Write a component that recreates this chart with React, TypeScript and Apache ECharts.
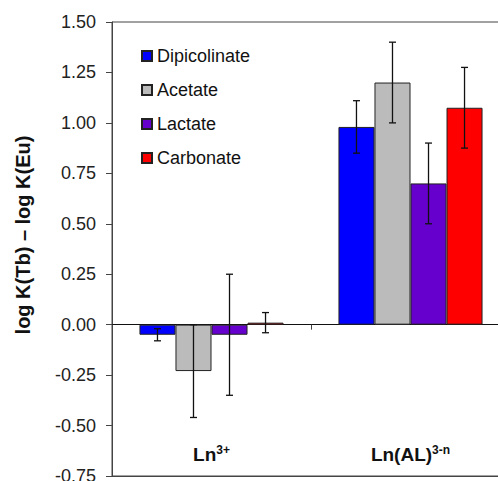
import React, { useEffect, useRef } from "react";
import * as echarts from "echarts";

const categories = ["Ln3+", "Ln(AL)3-n"];
const seriesNames = ["Dipicolinate", "Acetate", "Lactate", "Carbonate"];
const seriesColors = ["#0000FF", "#BBBBBB", "#6600CC", "#FF0000"];
const dipicolinate = [-0.05, 0.98];
const acetate = [-0.23, 1.2];
const lactate = [-0.05, 0.7];
const carbonate = [0.01, 1.075];
const dipicolinateErr = [0.03, 0.13];
const acetateErr = [0.23, 0.2];
const lactateErr = [0.3, 0.2];
const carbonateErr = [0.05, 0.2];
const yTicks = [-0.75, 1.5, 0.25];
const yTitle = "log K(Tb) – log K(Eu)";

const values = [dipicolinate, acetate, lactate, carbonate];
const errors = [dipicolinateErr, acetateErr, lactateErr, carbonateErr];
const CAT_GAP = 0.276;

export default function App() {
  const ref = useRef<HTMLDivElement>(null);
  useEffect(() => {
    const chart = echarts.init(ref.current!, null, { renderer: "svg" });
    const font = "Liberation Sans, Arial, sans-serif";
    const bars = seriesNames.map((name, i) => ({
      name,
      type: "bar",
      xAxisIndex: 0,
      data: values[i],
      barGap: "0%",
      barCategoryGap: CAT_GAP * 100 + "%",
      itemStyle: { color: seriesColors[i], borderColor: "#222", borderWidth: 1 },
      z: 2,
    }));
    const errs = seriesNames.map((name, i) => ({
      name: "err" + i,
      type: "custom",
      xAxisIndex: 0,
      z: 5,
      data: categories.map((_, k) => [k, values[i][k], errors[i][k]]),
      renderItem: (params: any, api: any) => {
        const cat = api.value(0);
        const c = api.value(1);
        const e = api.value(2);
        const band = api.size([1, 0])[0];
        const bw = (band * (1 - CAT_GAP)) / 4;
        const x = api.coord([cat, 0])[0] + (i - 1.5) * bw;
        const yT = api.coord([cat, c + e])[1];
        const yB = api.coord([cat, c - e])[1];
        const cap = 3.5;
        const st = { stroke: "#111", lineWidth: 1.3 };
        return {
          type: "group",
          children: [
            { type: "line", shape: { x1: x, y1: yT, x2: x, y2: yB }, style: st },
            { type: "line", shape: { x1: x - cap, y1: yT, x2: x + cap, y2: yT }, style: st },
            { type: "line", shape: { x1: x - cap, y1: yB, x2: x + cap, y2: yB }, style: st },
          ],
        };
      },
    }));
    chart.setOption({
      animation: false,
      backgroundColor: "#fff",
      textStyle: { fontFamily: font },
      grid: {
        left: 112,
        top: 22,
        right: 0,
        bottom: 5,
        outerBoundsMode: "none",
        containLabel: false,
        show: true,
        borderColor: "#444",
        borderWidth: 1,
      },
      graphic: [
        {
          type: "text",
          x: 23,
          y: 235,
          rotation: Math.PI / 2,
          style: {
            text: yTitle,
            fontSize: 20,
            fontWeight: "bold",
            fill: "#111",
            fontFamily: font,
            align: "center",
            verticalAlign: "middle",
          },
        },
      ],
      legend: {
        data: seriesNames,
        orient: "vertical",
        left: 136,
        top: 41,
        itemGap: 14,
        itemWidth: 10,
        itemHeight: 10,
        icon: "rect",
        textStyle: { fontSize: 18, color: "#111", fontFamily: font, lineHeight: 20 },
      },
      xAxis: [
        {
          type: "category",
          data: categories,
          axisLine: { onZero: true, lineStyle: { color: "#111", width: 1 } },
          axisTick: { show: true, length: 5, lineStyle: { color: "#444" } },
          axisLabel: { show: false },
          splitLine: { show: false },
        },
        {
          type: "category",
          data: categories,
          position: "bottom",
          axisLine: { show: true, onZero: false, lineStyle: { color: "#444" } },
          axisTick: { show: false },
          axisLabel: {
            inside: true,
            margin: 12,
            formatter: (v: string) =>
              v === "Ln3+" ? "{b|Ln}{s|3+}" : "{b|Ln(AL)}{s|3-n}",
            rich: {
              b: { fontSize: 19, fontWeight: "bold", color: "#111", fontFamily: font },
              s: { fontSize: 12, fontWeight: "bold", color: "#111", verticalAlign: "top", fontFamily: font, padding: [0, 0, 8, 0] },
            },
          },
        },
      ],
      yAxis: {
        type: "value",
        min: yTicks[0],
        max: yTicks[1],
        interval: yTicks[2],
        axisLine: { show: true, lineStyle: { color: "#444" } },
        axisTick: { show: true, length: 6, lineStyle: { color: "#444" } },
        axisLabel: {
          fontSize: 18,
          color: "#222",
          margin: 16,
          formatter: (v: number) => v.toFixed(2),
        },
        splitLine: { show: false },
      },
      series: [...bars, ...errs],
    });
    return () => chart.dispose();
  }, []);
  return (
    <div style={{ position: "fixed", left: 0, top: 0, width: 498, height: 481, overflow: "hidden" }}>
      <div ref={ref} style={{ width: 510, height: 481 }} />
    </div>
  );
}
